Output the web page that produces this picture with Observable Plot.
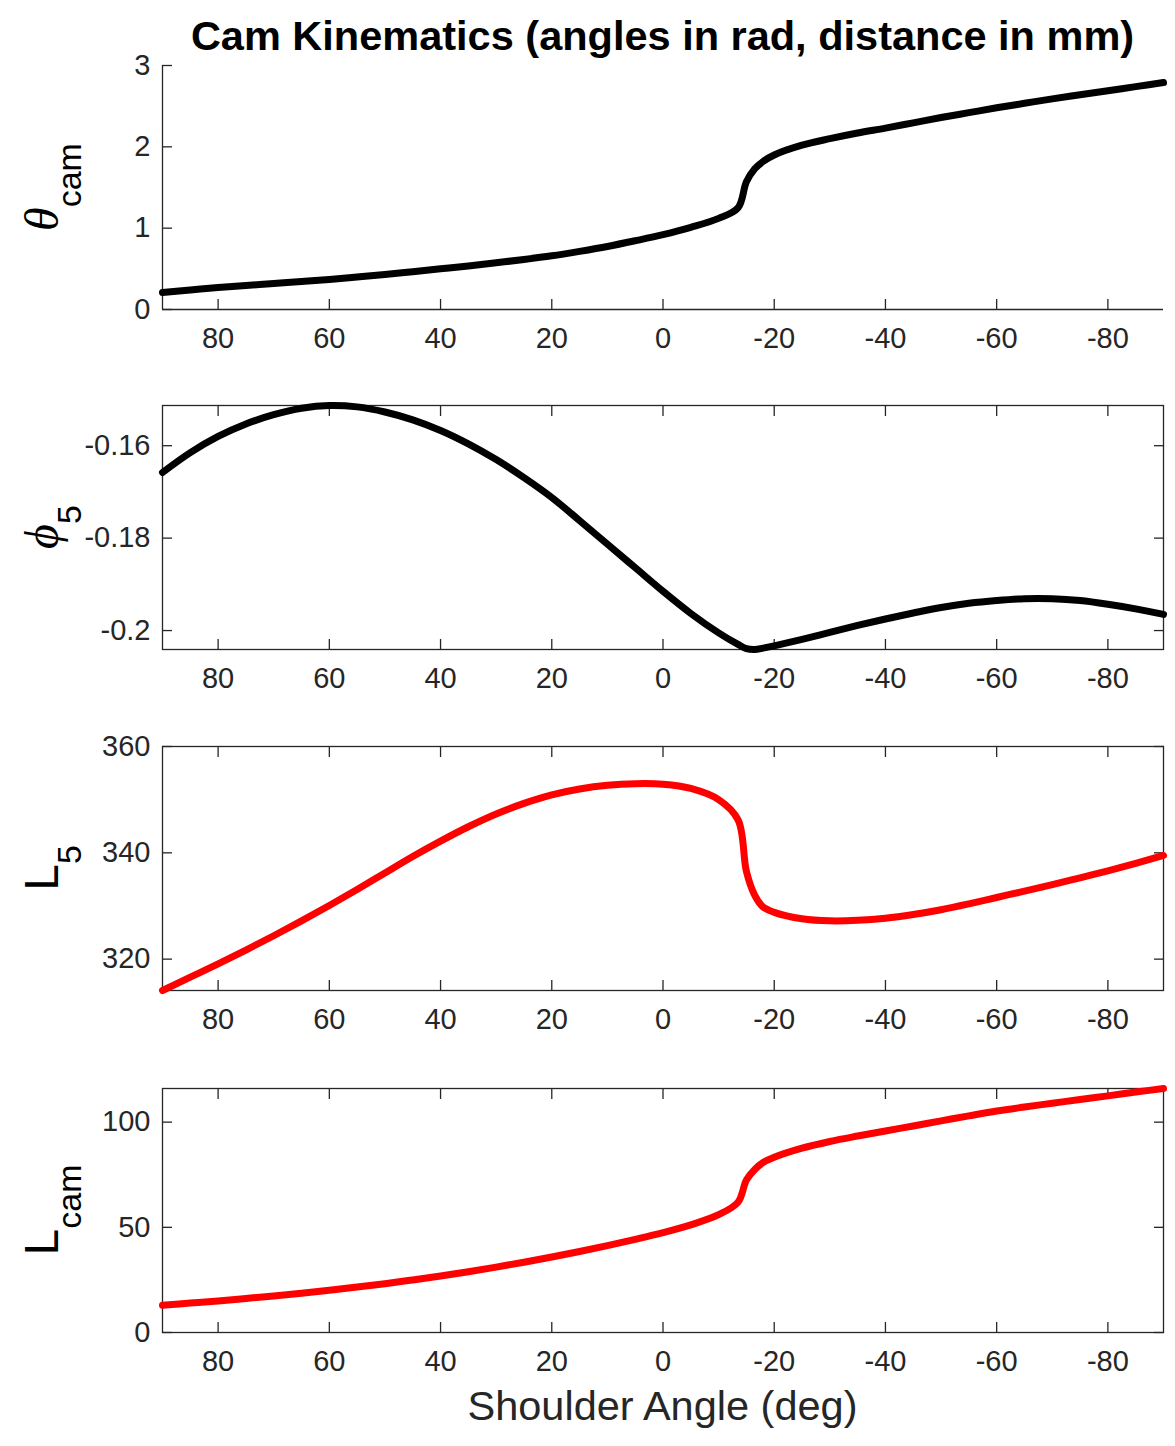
<!DOCTYPE html>
<html><head><meta charset="utf-8">
<script src="https://cdn.jsdelivr.net/npm/d3@7"></script>
<script src="https://cdn.jsdelivr.net/npm/@observablehq/plot@0.6"></script>
<style>
html,body{margin:0;padding:0;background:#fff;overflow:hidden;}
#fig{position:relative;width:1175px;height:1446px;font-family:"Liberation Sans",Arial,sans-serif;}
.panel{position:absolute;left:0;}
#title{position:absolute;left:0;width:1325px;top:15px;text-align:center;font-weight:bold;font-size:41.5px;line-height:41.5px;color:#000;white-space:nowrap;}
#xlabel{position:absolute;left:0;width:1325px;top:1385px;text-align:center;font-size:41.5px;line-height:41.5px;color:#262626;white-space:nowrap;}
</style></head><body>
<div id="fig">
  <div id="title">Cam Kinematics (angles in rad, distance in mm)</div>
  <div id="xlabel">Shoulder Angle (deg)</div>
</div>
<script>
// ---- data ----
const shoulderAngle = [90, 85, 80, 75, 70, 65, 60, 55, 50, 45, 40, 35, 30, 25, 20, 15, 10, 5, 0,
  -5, -10, -13.5, -15, -16.5, -18, -20,
  -25, -30, -35, -40, -45, -50, -55, -60, -65, -70, -75, -80, -85, -90];
const thetaCam = [0.21, 0.24, 0.27, 0.295, 0.32, 0.345, 0.37, 0.40, 0.43, 0.465, 0.50, 0.535, 0.575, 0.615, 0.66, 0.715, 0.775, 0.845, 0.92,
  1.01, 1.12, 1.25, 1.57, 1.73, 1.82, 1.90,
  2.02, 2.10, 2.17, 2.23, 2.295, 2.36, 2.42, 2.48, 2.535, 2.59, 2.64, 2.69, 2.74, 2.79];
const phi5 = [-0.1658, -0.1615, -0.1580, -0.1553, -0.1533, -0.1519, -0.1513, -0.1516, -0.1527, -0.1544, -0.1567, -0.1596, -0.1630, -0.1669, -0.1712, -0.1762, -0.1813, -0.1864, -0.1915,
  -0.1963, -0.2005, -0.2030, -0.2039, -0.2041, -0.2038, -0.2033,
  -0.2019, -0.2004, -0.1989, -0.1975, -0.1962, -0.1950, -0.1941, -0.1935, -0.1931, -0.1931, -0.1935, -0.1943, -0.1953, -0.1965];
const L5 = [314.1, 316.6, 319.1, 321.7, 324.4, 327.2, 330.1, 333.1, 336.2, 339.3, 342.2, 344.9, 347.3, 349.3, 350.9, 352.0, 352.7, 353.0, 352.9,
  352.1, 350.0, 346.2, 336.5, 332.0, 329.8, 328.8,
  327.6, 327.2, 327.3, 327.7, 328.4, 329.3, 330.4, 331.6, 332.8, 334.0, 335.3, 336.6, 338.0, 339.5];
const Lcam = [13.0, 14.0, 15.0, 16.2, 17.4, 18.7, 20.1, 21.6, 23.2, 25.0, 26.9, 28.9, 31.1, 33.4, 35.9, 38.5, 41.3, 44.3, 47.5,
  51.2, 56.0, 62.0, 72.5, 77.5, 80.8, 83.3,
  87.6, 90.8, 93.4, 95.8, 98.2, 100.6, 103.0, 105.3, 107.2, 109.0, 110.8, 112.5, 114.3, 116.0];

const xTicks = [80, 60, 40, 20, 0, -20, -40, -60, -80];
const xDomain = [90, -90];
const thetaTicks = [0, 1, 2, 3];
const phiTicks = [-0.2, -0.18, -0.16];
const L5Ticks = [320, 340, 360];
const LcamTicks = [0, 50, 100];
const thetaDomain = [0, 3];
const phiDomain = [-0.2041, -0.1513];
const L5Domain = [314.1, 360];
const LcamDomain = [0, 116];

const AX = "#262626";
const BLACK = "#000000";
const RED = "#ff0000";

const panels = [
  {values: thetaCam, domain: thetaDomain, ticks: thetaTicks, color: BLACK, box: false, top: 65, main: "θ", sub: "cam", serif: true},
  {values: phi5, domain: phiDomain, ticks: phiTicks, color: BLACK, box: true, top: 405, main: "ϕ", sub: "5", serif: true},
  {values: L5, domain: L5Domain, ticks: L5Ticks, color: RED, box: true, top: 746, main: "L", sub: "5", serif: false},
  {values: Lcam, domain: LcamDomain, ticks: LcamTicks, color: RED, box: true, top: 1088, main: "L", sub: "cam", serif: false}
];

const MT = 30, INNER = 244, MB = 70;
const fig = document.getElementById("fig");

for (const p of panels) {
  const data = shoulderAngle.map((a, i) => ({a, v: p.values[i]}));
  const marks = [];
  if (p.box) {
    marks.push(Plot.frame({stroke: AX, strokeWidth: 1.3}));
  } else {
    marks.push(Plot.ruleY([p.domain[0]], {stroke: AX, strokeWidth: 1.3}));
    marks.push(Plot.ruleX([xDomain[0]], {stroke: AX, strokeWidth: 1.3}));
  }
  // inward ticks
  marks.push(Plot.axisX(xTicks, {anchor: "bottom", tickSize: 10, dy: -10, fill: "none", stroke: AX, strokeWidth: 1.3, label: null}));
  marks.push(Plot.axisY(p.ticks, {anchor: "left", tickSize: 10, dx: 10, fill: "none", stroke: AX, strokeWidth: 1.3, label: null}));
  if (p.box) {
    marks.push(Plot.axisX(xTicks, {anchor: "top", tickSize: 10, dy: 10, fill: "none", stroke: AX, strokeWidth: 1.3, label: null}));
    marks.push(Plot.axisY(p.ticks, {anchor: "right", tickSize: 10, dx: -10, fill: "none", stroke: AX, strokeWidth: 1.3, label: null}));
  }
  // tick labels
  marks.push(Plot.axisX(xTicks, {anchor: "bottom", tickSize: 0, tickPadding: 18, tickFormat: d => String(d), fontSize: 29, fill: AX, label: null}));
  marks.push(Plot.axisY(p.ticks, {anchor: "left", tickSize: 0, tickPadding: 12, tickFormat: d => String(d), fontSize: 29, fill: AX, label: null}));
  // curve
  marks.push(Plot.line(data, {x: "a", y: "v", stroke: p.color, strokeWidth: 7, curve: "catmull-rom"}));

  const svg = Plot.plot({
    width: 1175,
    height: MT + INNER + MB,
    marginLeft: 162,
    marginRight: 12,
    marginTop: MT,
    marginBottom: MB,
    style: {fontFamily: '"Liberation Sans", Arial, sans-serif', fontSize: "29px", background: "transparent", overflow: "visible", color: AX},
    x: {domain: xDomain},
    y: {domain: p.domain},
    marks
  });

  // y-axis label with subscript
  const cy = MT + INNER / 2;
  const t = d3.select(svg).append("text")
    .attr("transform", `translate(58,${cy}) rotate(-90)`)
    .attr("text-anchor", "middle")
    .attr("fill", "#000");
  t.append("tspan")
    .attr("font-size", 48)
    .attr("font-family", p.serif ? '"Liberation Serif","DejaVu Serif",serif' : '"Liberation Sans",Arial,sans-serif')
    .attr("font-style", p.serif ? "italic" : "normal")
    .text(p.main);
  t.append("tspan")
    .attr("font-size", 34)
    .attr("font-family", '"Liberation Sans",Arial,sans-serif')
    .attr("dy", 23)
    .text(p.sub);

  const wrap = document.createElement("div");
  wrap.className = "panel";
  wrap.style.top = (p.top - MT) + "px";
  wrap.appendChild(svg);
  fig.appendChild(wrap);
}
</script>
</body></html>
